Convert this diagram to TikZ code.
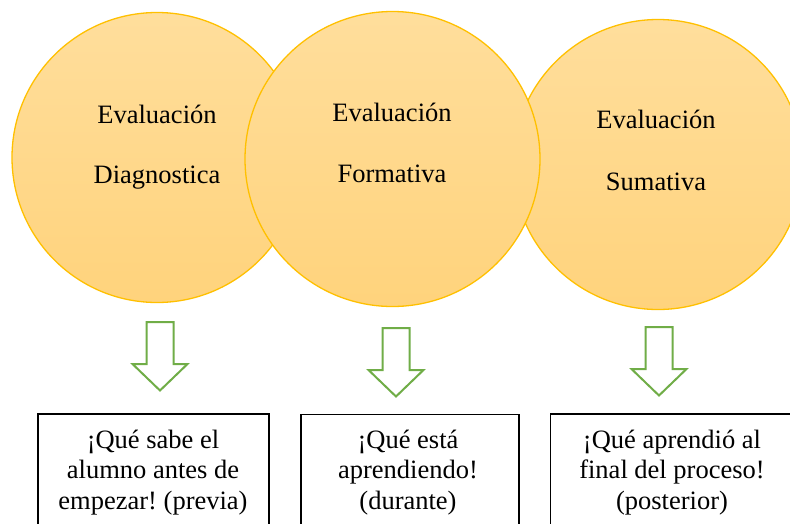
\documentclass[tikz,border=0pt]{standalone}
\usepackage{fontspec}
\setmainfont{Liberation Serif}
\frenchspacing
\definecolor{circtop}{HTML}{FFDE9C}
\definecolor{circbot}{HTML}{FFD37C}
\definecolor{circline}{HTML}{FFC000}
\definecolor{arrowgreen}{HTML}{70AD47}
\tikzset{
  bubble/.style={circle, draw=circline, line width=1.3pt, top color=circtop, bottom color=circbot, inner sep=0pt},
  ctext/.style={font=\fontsize{26.5}{31}\selectfont, anchor=base, inner sep=0pt},
  btext/.style={font=\fontsize{26.5}{30.5}\selectfont, align=center, anchor=base, inner sep=0pt},
  qbox/.style={draw=black, line width=1.8pt, anchor=north west, inner sep=0pt},
  arrowline/.style={draw=arrowgreen, line width=2pt, fill=white, line join=miter},
  downarrow/.pic={\path[arrowline] (-13.5,0) -- (13.5,0) -- (13.5,42) -- (27.5,42) -- (0,68.5) -- (-27.5,42) -- (-13.5,42) -- cycle;}
}
\begin{document}
\begin{tikzpicture}[x=1pt,y=-1pt]
\clip (0,0) rectangle (790,523);
\fill[white] (0,0) rectangle (790,523);
% circles
\node[bubble, minimum size=290pt] (c1) at (157,157.5) {};
\node[bubble, minimum size=290pt] (c3) at (658,164.5) {};
\node[bubble, minimum size=295pt] (c2) at (392.5,159) {};
% circle texts
\node[ctext] (e1) at (157,123) {Evaluación};
\node[ctext] (d1) at (157,183) {Diagnostica};
\node[ctext] (e2) at (392,121) {Evaluación};
\node[ctext] (d2) at (392,182) {Formativa};
\node[ctext] (e3) at (656,128) {Evaluación};
\node[ctext] (d3) at (656,190) {Sumativa};
% arrows
\pic (a1) at (160,322) {downarrow};
\pic (a2) at (396,328) {downarrow};
\pic (a3) at (659,327) {downarrow};
% boxes
\node[qbox, minimum width=231pt, minimum height=130pt] (b1) at (37,413) {};
\node[qbox, minimum width=218pt, minimum height=130pt] (b2) at (300,413.5) {};
\node[qbox, minimum width=260pt, minimum height=130pt] (b3) at (549.5,413) {};
% box texts (base anchor = last line baseline)
\node[btext] (q1) at (153,509) {¡Qué sabe el\\alumno antes de\\empezar! (previa)};
\node[btext] (q2) at (408,509) {¡Qué está\\aprendiendo!\\(durante)};
\node[btext] (q3) at (672,509) {¡Qué aprendió al\\final del proceso!\\(posterior)};
\end{tikzpicture}
\end{document}
